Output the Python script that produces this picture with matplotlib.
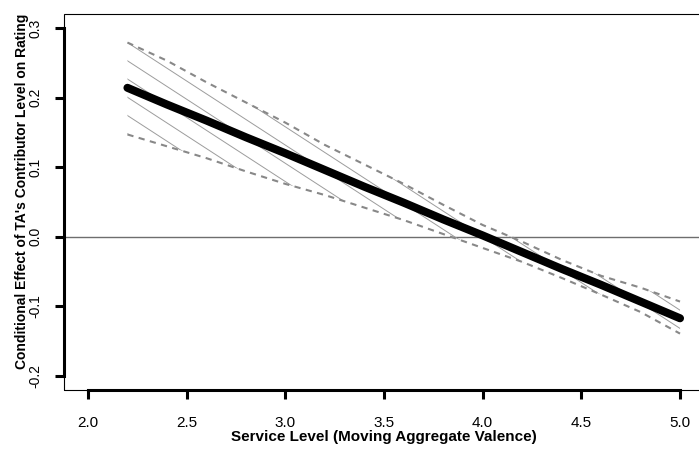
import numpy as np
import matplotlib
matplotlib.use("Agg")
import matplotlib.pyplot as plt
from matplotlib.patches import Rectangle

plt.rcParams['font.family'] = ['Liberation Sans', 'DejaVu Sans']

# service level grid and conditional effect with its confidence bounds
service_level = [2.2, 2.4, 2.6, 2.8, 3.0, 3.2, 3.4, 3.6, 3.8, 4.0, 4.2, 4.4, 4.6, 4.8, 5.0]
effect = [0.214, 0.190, 0.167, 0.143, 0.120, 0.096, 0.072, 0.049, 0.025, 0.002,
          -0.022, -0.046, -0.069, -0.093, -0.117]
upper = [0.279, 0.253, 0.222, 0.193, 0.164, 0.132, 0.104, 0.076, 0.046, 0.017,
         -0.007, -0.033, -0.056, -0.073, -0.093]
lower = [0.147, 0.130, 0.113, 0.094, 0.076, 0.060, 0.042, 0.024, 0.004, -0.016,
         -0.036, -0.059, -0.083, -0.108, -0.139]

x_ticks = [2.0, 2.5, 3.0, 3.5, 4.0, 4.5, 5.0]
y_ticks = [-0.2, -0.1, 0.0, 0.1, 0.2, 0.3]

XLABEL = "Service Level (Moving Aggregate Valence)"
YLABEL = "Conditional Effect of TA's Contributor Level on Rating"

W, H = 699, 451
fig = plt.figure(figsize=(W / 100, H / 100), dpi=100)
ax = fig.add_axes([64.3 / W, 1 - 390 / H, (703.7 - 64.3) / W, (390 - 14) / H])
ax.set_xlim(1.88, 5.12)
ax.set_ylim(-0.22, 0.32)

x = np.array(service_level)
up = np.array(upper)
lo = np.array(lower)

# hatched confidence band (R style density lines)
band = ax.fill_between(x, lo, up, facecolor='none', edgecolor='none')
clip = band.get_paths()[0]
ang = np.deg2rad(33)
d = np.array([np.cos(ang), -np.sin(ang)])
nrm = np.array([np.sin(ang), np.cos(ang)])
spacing = 15.3
p0 = ax.transData.transform((x[0], up[0]))
inv = ax.transData.inverted()
for k in range(-50, 50):
    c = p0 + k * spacing * nrm
    pts = inv.transform(np.array([c - 1500 * d, c + 1500 * d]))
    ln, = ax.plot(pts[:, 0], pts[:, 1], color='#9c9c9c', lw=0.7, zorder=2)
    ln.set_clip_path(clip, ax.transData)

ax.plot(x, up, color='#888888', lw=1.5, ls=(0, (3.0, 2.6)), zorder=3)
ax.plot(x, lo, color='#888888', lw=1.5, ls=(0, (3.0, 2.6)), zorder=3)
ax.axhline(0, color='#6e6e6e', lw=1.0, zorder=1)
ax.plot(x, effect, color='black', lw=5.8, solid_capstyle='round', zorder=4)

# thin box around the plot region, thick axis lines like R's axis(lwd=2)
ax.add_patch(Rectangle((0, 0), 1, 1, transform=ax.transAxes, fill=False,
                       lw=0.8, edgecolor='black', clip_on=False, zorder=5))
for s in ['top', 'right']:
    ax.spines[s].set_visible(False)
ax.spines['left'].set_bounds(min(y_ticks), max(y_ticks))
ax.spines['bottom'].set_bounds(min(x_ticks), max(x_ticks))
ax.spines['left'].set_linewidth(2.2)
ax.spines['bottom'].set_linewidth(2.2)

ax.set_xticks(x_ticks)
ax.set_xticklabels([f"{v:.1f}" for v in x_ticks], fontsize=11)
ax.set_yticks(y_ticks)
ax.set_yticklabels([f"{v:.1f}" for v in y_ticks], fontsize=10, rotation=90, va='center')
ax.tick_params(axis='both', direction='out', length=6.5, width=2.2)
ax.tick_params(axis='x', pad=12)
ax.tick_params(axis='y', pad=9)

ax.set_xlabel(XLABEL, fontsize=11, fontweight='bold')
ax.set_ylabel(YLABEL, fontsize=10, fontweight='bold')
ax.xaxis.set_label_coords(0.5, (390 - 430) / 376)
ax.yaxis.set_label_coords((29 - 64.3) / 639.4, (390 - 191) / 376)

fig.savefig("out.png", dpi=100)
